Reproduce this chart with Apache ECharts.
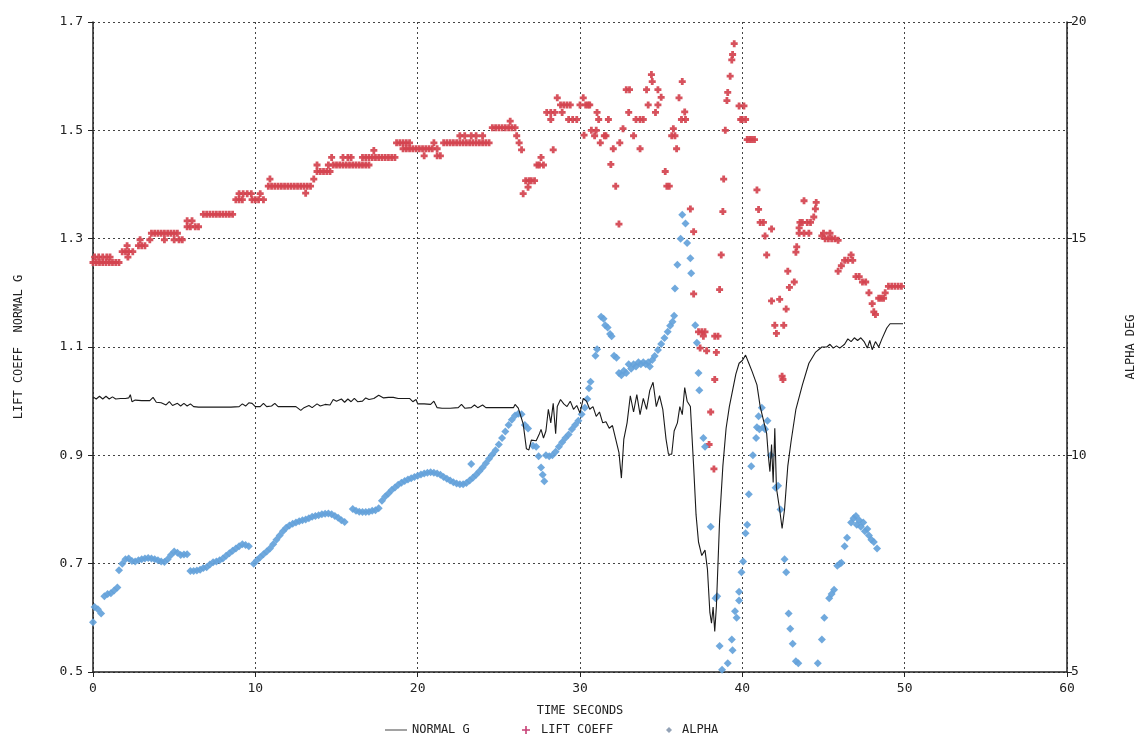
<!DOCTYPE html>
<html>
<head>
<meta charset="utf-8">
<script src="https://cdn.jsdelivr.net/npm/echarts@6/dist/echarts.min.js"></script>
<style>
html,body{margin:0;padding:0;background:#fff;}
#chart{width:1145px;height:746px;}
</style>
</head>
<body>
<div id="chart"></div>
<script>
// ---- Data (time in seconds) ----
const xTicks = [0, 10, 20, 30, 40, 50, 60];
const leftTicks = [0.5, 0.7, 0.9, 1.1, 1.3, 1.5, 1.7];
const rightTicks = [5, 10, 15, 20];

// NORMAL G [time, g]
const normalG = [
[0,1.008],[0.2,1.004],[0.4,1.009],[0.6,1.004],[0.8,1.009],[1.0,1.004],[1.2,1.008],[1.4,1.004],[1.7,1.005],[2.0,1.005],
[2.2,1.006],[2.3,1.012],[2.4,0.999],[2.6,1.002],[3.0,1.001],[3.5,1.001],[3.7,1.007],[3.9,0.998],[4.2,0.997],[4.5,0.993],
[4.7,0.999],[4.9,0.992],[5.2,0.996],[5.4,0.991],[5.6,0.996],[5.8,0.991],[6.0,0.995],[6.2,0.990],[6.5,0.989],[7.5,0.989],
[8.5,0.989],[9.0,0.990],[9.2,0.995],[9.4,0.991],[9.6,0.997],[9.8,0.996],[10.0,0.990],[10.3,0.990],[10.5,0.996],[10.7,0.990],
[11.0,0.991],[11.2,0.996],[11.4,0.990],[12.0,0.990],[12.5,0.990],[12.8,0.983],[13.0,0.988],[13.3,0.992],[13.5,0.988],[13.8,0.995],
[14.0,0.991],[14.3,0.994],[14.6,0.993],[14.8,1.003],[15.0,1.000],[15.3,1.004],[15.5,0.998],[15.7,1.004],[15.9,0.999],[16.1,1.005],
[16.3,0.999],[16.6,1.000],[16.8,1.006],[17.0,1.003],[17.3,1.005],[17.6,1.011],[17.9,1.006],[18.2,1.007],[18.5,1.007],[18.8,1.005],
[19.2,1.005],[19.5,1.005],[19.7,0.999],[19.9,1.003],[20.0,0.995],[20.4,0.995],[20.8,0.994],[21.0,1.000],[21.2,0.988],[21.5,0.987],
[22.0,0.987],[22.5,0.988],[22.7,0.994],[22.9,0.987],[23.3,0.988],[23.5,0.993],[23.7,0.988],[24.0,0.993],[24.2,0.988],[25.0,0.988],
[25.9,0.988],[26.0,0.994],[26.2,0.987],[26.5,0.958],[26.7,0.912],[26.85,0.910],[27.0,0.928],[27.3,0.927],[27.5,0.940],[27.6,0.948],
[27.75,0.932],[27.9,0.945],[28.05,0.985],[28.2,0.960],[28.35,0.996],[28.5,0.940],[28.6,0.990],[28.8,1.003],[29.0,0.995],[29.2,0.990],
[29.4,1.000],[29.6,0.985],[29.8,0.992],[30.0,0.978],[30.2,1.005],[30.4,1.000],[30.6,0.985],[30.8,0.990],[31.0,0.972],[31.2,0.980],
[31.4,0.960],[31.6,0.962],[31.8,0.950],[32.0,0.955],[32.2,0.930],[32.4,0.905],[32.55,0.858],[32.7,0.930],[32.9,0.960],[33.1,1.010],
[33.3,0.980],[33.5,1.012],[33.7,0.975],[33.9,1.005],[34.1,0.985],[34.3,1.020],[34.5,1.035],[34.7,0.990],[34.9,1.010],[35.1,0.985],
[35.3,0.930],[35.45,0.902],[35.65,0.902],[35.8,0.945],[36.0,0.960],[36.15,0.990],[36.3,0.975],[36.45,1.025],[36.6,1.000],[36.8,0.990],
[37.0,0.880],[37.15,0.790],[37.3,0.740],[37.5,0.715],[37.7,0.725],[37.85,0.690],[38.0,0.610],[38.1,0.590],[38.2,0.620],[38.3,0.575],
[38.4,0.620],[38.5,0.700],[38.6,0.780],[38.8,0.880],[39.0,0.950],[39.2,0.990],[39.4,1.020],[39.6,1.050],[39.8,1.070],[40.0,1.075],
[40.2,1.085],[40.4,1.070],[40.6,1.055],[40.9,1.030],[41.1,0.990],[41.3,0.965],[41.5,0.940],[41.6,0.900],[41.7,0.870],[41.8,0.920],
[41.9,0.850],[42.0,0.950],[42.1,0.840],[42.3,0.800],[42.45,0.765],[42.6,0.800],[42.8,0.880],[43.0,0.925],[43.3,0.985],[43.7,1.030],
[44.1,1.070],[44.5,1.090],[44.9,1.100],[45.2,1.100],[45.4,1.105],[45.6,1.098],[45.8,1.102],[46.0,1.098],[46.3,1.105],[46.5,1.115],
[46.7,1.110],[46.9,1.117],[47.1,1.112],[47.3,1.117],[47.5,1.110],[47.7,1.098],[47.85,1.112],[48.0,1.095],[48.2,1.110],[48.4,1.100],
[48.6,1.115],[48.9,1.135],[49.1,1.143],[49.9,1.143]
];

// LIFT COEFF [time, CL]
const liftCoeff = [
[0,1.256],[0.2,1.256],[0.4,1.256],[0.6,1.256],[0.8,1.256],[1.0,1.256],[1.2,1.256],[1.4,1.256],[1.6,1.256],
[0.1,1.266],[0.35,1.266],[0.6,1.266],[0.85,1.266],[1.05,1.266],
[1.8,1.276],[2.0,1.276],[2.2,1.276],[2.45,1.276],[2.1,1.287],[2.15,1.266],
[2.8,1.287],[3.0,1.287],[3.2,1.287],[2.9,1.298],
[3.6,1.31],[3.8,1.31],[4.0,1.31],[4.2,1.31],[4.4,1.31],[4.6,1.31],[4.8,1.31],[5.0,1.31],[5.2,1.31],
[3.5,1.298],[4.4,1.298],[5.0,1.298],[5.3,1.298],[5.5,1.298],
[5.8,1.333],[6.1,1.333],[5.8,1.322],[6.0,1.322],[6.3,1.322],[6.5,1.322],
[6.8,1.345],[7.0,1.345],[7.2,1.345],[7.4,1.345],[7.6,1.345],[7.8,1.345],[8.0,1.345],[8.2,1.345],[8.4,1.345],[8.6,1.345],
[8.8,1.372],[9.0,1.372],[9.2,1.372],[9.8,1.372],[10.0,1.372],[10.2,1.372],[10.5,1.372],
[9.0,1.383],[9.25,1.383],[9.5,1.383],[9.75,1.383],[10.3,1.383],
[10.8,1.397],[11.0,1.397],[11.2,1.397],[11.4,1.397],[11.6,1.397],[11.8,1.397],[12.0,1.397],[12.2,1.397],[12.4,1.397],
[12.6,1.397],[12.8,1.397],[13.0,1.397],[13.2,1.397],[13.4,1.397],
[10.9,1.41],[13.1,1.384],[13.6,1.41],
[13.8,1.424],[14.0,1.424],[14.2,1.424],[14.4,1.424],[14.6,1.424],[13.8,1.436],
[14.5,1.436],[14.8,1.436],[15.0,1.436],[15.2,1.436],[15.4,1.436],[15.6,1.436],[15.8,1.436],[16.0,1.436],[16.2,1.436],
[16.4,1.436],[16.6,1.436],[16.8,1.436],[17.0,1.436],
[14.7,1.45],[15.4,1.45],[15.7,1.45],[15.9,1.45],
[16.6,1.45],[16.8,1.45],[17.0,1.45],[17.2,1.45],[17.4,1.45],[17.6,1.45],[17.8,1.45],[18.0,1.45],[18.2,1.45],[18.4,1.45],[18.6,1.45],[17.3,1.463],
[18.7,1.477],[18.9,1.477],[19.1,1.477],[19.3,1.477],[19.5,1.477],
[19.1,1.466],[19.3,1.466],[19.5,1.466],[19.7,1.466],[19.9,1.466],[20.1,1.466],[20.3,1.466],[20.5,1.466],[20.7,1.466],[20.9,1.466],
[21.2,1.466],[21.0,1.477],[21.2,1.453],[21.4,1.453],[20.4,1.453],
[21.6,1.477],[21.8,1.477],[22.0,1.477],[22.2,1.477],[22.4,1.477],[22.6,1.477],[22.8,1.477],[23.0,1.477],[23.2,1.477],
[23.4,1.477],[23.6,1.477],[23.8,1.477],[24.0,1.477],[24.2,1.477],[24.4,1.477],
[22.6,1.49],[22.9,1.49],[23.3,1.49],[23.6,1.49],[24.0,1.49],
[24.6,1.505],[24.8,1.505],[25.0,1.505],[25.2,1.505],[25.4,1.505],[25.6,1.505],[25.8,1.505],[26.0,1.505],[25.7,1.517],
[26.1,1.49],[26.25,1.477],[26.4,1.464],[26.5,1.383],[26.65,1.407],[26.8,1.395],[26.85,1.407],[27.0,1.407],[27.2,1.407],
[27.35,1.436],[27.5,1.436],[27.6,1.45],[27.75,1.436],[28.2,1.52],[28.35,1.464],[27.95,1.533],[28.2,1.533],[28.45,1.533],
[28.6,1.56],[28.9,1.533],[28.8,1.547],[29.0,1.547],[29.2,1.547],[29.4,1.547],[29.3,1.52],[29.55,1.52],[29.8,1.52],
[30.0,1.547],[30.2,1.56],[30.25,1.491],[30.35,1.547],[30.5,1.547],[30.6,1.547],[30.7,1.5],[30.9,1.49],[31.0,1.5],
[31.05,1.533],[31.15,1.52],[31.25,1.477],[31.5,1.49],[31.6,1.49],[31.75,1.52],[31.9,1.437],[32.05,1.466],[32.2,1.397],
[32.4,1.327],[32.45,1.477],[32.65,1.503],[32.85,1.575],[33.05,1.575],[33.0,1.533],[33.3,1.49],[33.45,1.52],[33.7,1.52],
[33.9,1.52],[33.7,1.466],[34.1,1.575],[34.2,1.547],[34.4,1.603],[34.45,1.59],[34.65,1.533],[34.8,1.547],[34.8,1.575],
[35.0,1.561],[35.25,1.424],[35.35,1.397],[35.5,1.397],[35.75,1.503],[35.65,1.49],[35.85,1.49],[35.95,1.466],[36.1,1.56],
[36.3,1.59],[36.25,1.52],[36.5,1.52],[36.45,1.534],[36.8,1.355],[37.0,1.313],
[37.0,1.198],[37.3,1.128],[37.5,1.128],[37.7,1.128],[37.4,1.098],[37.6,1.12],[37.8,1.093],[37.95,0.92],[38.05,0.98],
[38.25,0.875],[38.3,1.04],[38.3,1.12],[38.4,1.09],[38.5,1.12],[38.6,1.206],[38.7,1.27],[38.8,1.35],[38.85,1.41],
[38.95,1.5],[39.05,1.555],[39.1,1.57],[39.25,1.6],[39.35,1.63],[39.4,1.64],[39.5,1.66],[39.8,1.545],[39.9,1.52],
[40.0,1.52],[40.1,1.545],[40.2,1.52],[40.3,1.483],[40.45,1.483],[40.6,1.483],[40.75,1.483],[40.9,1.39],[41.0,1.354],
[41.1,1.33],[41.3,1.33],[41.4,1.305],[41.8,1.318],[41.5,1.27],[41.8,1.185],[42.3,1.188],[42.0,1.14],[42.1,1.125],
[42.45,1.046],[42.5,1.04],[42.55,1.14],[42.7,1.17],[42.8,1.24],[42.9,1.21],[43.2,1.22],[43.3,1.275],[43.35,1.285],
[43.5,1.32],[43.55,1.33],[43.8,1.37],[43.5,1.31],[43.8,1.31],[44.1,1.31],[43.7,1.33],[44.0,1.33],[44.2,1.33],[44.4,1.34],
[44.5,1.355],[44.55,1.367],[44.9,1.305],[45.1,1.3],[45.3,1.3],[45.5,1.3],[45.7,1.3],[45.9,1.297],[45.0,1.31],[45.4,1.31],
[45.9,1.24],[46.1,1.25],[46.3,1.26],[46.5,1.26],[46.7,1.27],[46.8,1.26],[47.0,1.23],[47.2,1.23],[47.4,1.22],[47.6,1.22],
[47.8,1.2],[48.0,1.18],[48.1,1.165],[48.2,1.16],[48.4,1.19],[48.55,1.19],[48.7,1.19],[48.8,1.2],[49.0,1.212],[49.2,1.212],
[49.4,1.212],[49.6,1.212],[49.8,1.212]
];

// ALPHA [time, deg]
const alpha = [
[0,6.15],[0.1,6.5],[0.3,6.45],[0.5,6.35],[0.7,6.75],[0.9,6.8],[1.1,6.82],[1.3,6.88],[1.5,6.95],
[1.6,7.35],[1.8,7.5],[2.0,7.6],[2.2,7.62],[2.4,7.56],[2.6,7.55],[2.8,7.58],[3.0,7.6],[3.2,7.62],[3.4,7.63],[3.6,7.62],
[3.8,7.6],[4.0,7.58],[4.2,7.55],[4.4,7.54],[4.6,7.6],[4.8,7.7],[5.0,7.78],[5.2,7.75],[5.4,7.7],[5.6,7.71],[5.8,7.72],
[6.0,7.33],[6.2,7.33],[6.4,7.34],[6.6,7.36],[6.8,7.4],[7.0,7.42],[7.2,7.48],[7.4,7.53],[7.6,7.55],[7.8,7.58],[8.0,7.62],
[8.2,7.68],[8.4,7.74],[8.6,7.8],[8.8,7.85],[9.0,7.9],[9.2,7.95],[9.4,7.93],[9.6,7.9],
[9.9,7.5],[10.1,7.58],[10.3,7.65],[10.5,7.72],[10.7,7.78],[10.9,7.85],[11.1,7.95],[11.3,8.05],[11.5,8.15],[11.7,8.25],
[11.9,8.33],[12.1,8.38],[12.3,8.42],[12.5,8.45],[12.7,8.48],[12.9,8.5],[13.1,8.52],[13.3,8.55],[13.5,8.58],[13.7,8.6],
[13.9,8.62],[14.1,8.64],[14.3,8.65],[14.5,8.66],[14.7,8.64],[14.9,8.6],[15.1,8.56],[15.3,8.5],[15.5,8.46],
[16.0,8.76],[16.2,8.72],[16.4,8.7],[16.6,8.69],[16.8,8.69],[17.0,8.7],[17.2,8.72],[17.4,8.73],[17.6,8.78],
[17.8,8.95],[18.0,9.05],[18.2,9.12],[18.4,9.2],[18.6,9.26],[18.8,9.32],[19.0,9.37],[19.2,9.41],[19.4,9.44],[19.6,9.47],
[19.8,9.5],[20.0,9.53],[20.2,9.56],[20.4,9.58],[20.6,9.6],[20.8,9.61],[21.0,9.6],[21.2,9.58],[21.4,9.55],[21.6,9.5],
[21.8,9.46],[22.0,9.42],[22.2,9.38],[22.4,9.35],[22.6,9.33],[22.8,9.33],[23.3,9.8],
[23.0,9.36],[23.2,9.42],[23.4,9.48],[23.6,9.55],[23.8,9.63],[24.0,9.72],[24.2,9.82],[24.4,9.92],[24.6,10.02],[24.8,10.12],
[25.0,10.25],[25.2,10.4],[25.4,10.55],[25.6,10.7],[25.8,10.82],[26.0,10.92],[26.2,10.96],[26.4,10.95],
[26.6,10.7],[26.8,10.62],[27.1,10.22],[27.3,10.2],[27.45,9.98],[27.6,9.72],[27.7,9.55],[27.8,9.4],
[27.9,10.0],[28.1,9.98],[28.3,10.0],[28.5,10.08],[28.7,10.2],[28.9,10.3],[29.1,10.4],[29.3,10.48],[29.5,10.6],[29.7,10.7],
[29.9,10.8],[30.1,10.95],[30.3,11.1],[30.45,11.3],[30.55,11.55],[30.65,11.7],
[30.95,12.3],[31.05,12.45],[31.3,13.2],[31.45,13.15],[31.55,13.0],[31.7,12.95],[31.85,12.8],[31.95,12.75],
[32.1,12.3],[32.25,12.25],[32.4,11.9],[32.55,11.85],[32.7,11.95],[32.85,11.9],[33.0,12.1],[33.15,12.0],[33.3,12.1],
[33.45,12.05],[33.6,12.15],[33.75,12.1],[33.9,12.15],[34.05,12.1],[34.2,12.15],[34.3,12.05],
[34.45,12.2],[34.6,12.29],[34.8,12.43],[35.0,12.57],[35.2,12.71],[35.4,12.85],[35.55,12.99],[35.7,13.08],[35.8,13.22],
[35.85,13.85],[36.0,14.4],[36.2,15.0],[36.3,15.55],[36.5,15.35],[36.6,14.9],[36.8,14.55],[36.85,14.2],
[37.1,13.0],[37.2,12.6],[37.3,11.9],[37.35,11.5],[37.6,10.4],[37.7,10.2],
[38.05,8.35],[38.35,6.7],[38.45,6.75],[38.6,5.6],[38.75,5.05],[39.1,5.2],[39.35,5.75],[39.4,5.5],[39.55,6.4],[39.65,6.25],
[39.8,6.85],[39.8,6.65],[39.95,7.3],[40.05,7.55],[40.2,8.2],[40.3,8.4],[40.4,9.1],[40.55,9.75],[40.65,10.0],[40.85,10.4],
[40.9,10.65],[41.0,10.9],[41.05,10.6],[41.2,11.1],[41.3,10.65],[41.4,10.6],[41.55,10.8],[41.75,10.0],
[42.05,9.25],[42.2,9.3],[42.35,8.75],[42.6,7.6],[42.7,7.3],[42.85,6.35],[42.95,6.0],[43.1,5.65],[43.3,5.25],[43.45,5.2],
[44.65,5.2],[44.9,5.75],[45.05,6.25],[45.35,6.7],[45.5,6.8],[45.65,6.9],[45.85,7.45],[46.0,7.5],[46.1,7.52],[46.3,7.9],
[46.45,8.1],[46.7,8.45],[46.85,8.55],[47.0,8.6],[47.05,8.4],[47.2,8.5],[47.3,8.35],[47.45,8.45],[47.55,8.25],[47.7,8.3],
[47.8,8.15],[47.95,8.05],[48.1,8.0],[48.3,7.85]
];

const seriesNames = ['NORMAL G', 'LIFT COEFF', 'ALPHA'];

const FONT = 'DejaVu Sans Mono';
const chart = echarts.init(document.getElementById('chart'), null, {renderer: 'canvas'});
const plusPath = 'path://M3,0h4v3h3v4h-3v3h-4v-3h-3v-4h3z';
const thinPlus = 'path://M4,0h2v4h4v2h-4v4h-2v-4h-4v-2h4z';
const legendText = {fontFamily: FONT, fontSize: 12, color: '#222'};

chart.setOption({
  animation: false,
  backgroundColor: '#ffffff',
  grid: {left: 93, right: 77, top: 22, bottom: 74},
  legend: [
    {bottom: 5, left: 380, itemWidth: 22, itemHeight: 8, textStyle: legendText,
     data: [{name: seriesNames[0], icon: 'path://M0,4H22V5H0Z', itemStyle: {color: '#444'}}]},
    {bottom: 5, left: 517, itemWidth: 8, itemHeight: 8, textStyle: Object.assign({padding: [0, 0, 0, 6]}, legendText),
     data: [{name: seriesNames[1], icon: thinPlus, itemStyle: {color: '#c2306a'}}]},
    {bottom: 5, left: 661, itemWidth: 6, itemHeight: 6, textStyle: Object.assign({padding: [0, 0, 0, 5]}, legendText),
     data: [{name: seriesNames[2], icon: 'diamond', itemStyle: {color: '#8a9ab0'}}]}
  ],
  xAxis: {
    type: 'value', min: xTicks[0], max: xTicks[xTicks.length - 1], interval: 10,
    name: 'TIME SECONDS', nameLocation: 'middle', nameGap: 33,
    nameTextStyle: {fontFamily: FONT, fontSize: 12, color: '#222'},
    axisLine: {show: true, lineStyle: {color: '#222', width: 1.5}},
    axisTick: {show: true, length: 5, lineStyle: {color: '#222'}},
    axisLabel: {fontFamily: FONT, fontSize: 13, color: '#222', margin: 10},
    splitLine: {show: true, lineStyle: {color: '#444', type: [2, 3], width: 1}}
  },
  yAxis: [
    {
      type: 'value', min: leftTicks[0], max: leftTicks[leftTicks.length - 1], interval: 0.2,
      position: 'left',
      name: 'LIFT COEFF  NORMAL G', nameLocation: 'middle', nameGap: 68, nameRotate: 90,
      nameTextStyle: {fontFamily: FONT, fontSize: 12, color: '#222'},
      axisLine: {show: true, lineStyle: {color: '#222', width: 1.5}},
      axisTick: {show: true, length: 5, lineStyle: {color: '#222'}},
      axisLabel: {fontFamily: FONT, fontSize: 13, color: '#222', margin: 10,
                  formatter: v => v.toFixed(1)},
      splitLine: {show: true, lineStyle: {color: '#444', type: [2, 3], width: 1}}
    },
    {
      type: 'value', min: rightTicks[0], max: rightTicks[rightTicks.length - 1], interval: 5,
      position: 'right',
      name: 'ALPHA DEG', nameLocation: 'middle', nameGap: 58, nameRotate: 90,
      nameTextStyle: {fontFamily: FONT, fontSize: 12, color: '#222'},
      axisLine: {show: true, lineStyle: {color: '#222', width: 1.5}},
      axisTick: {show: true, length: 5, lineStyle: {color: '#222'}},
      axisLabel: {fontFamily: FONT, fontSize: 13, color: '#222', margin: 4},
      splitLine: {show: false}
    }
  ],
  series: [
    {
      name: seriesNames[1], type: 'scatter', yAxisIndex: 0, data: liftCoeff,
      symbol: plusPath, symbolSize: 7,
      itemStyle: {color: '#d4434f', opacity: 0.92}, z: 2
    },
    {
      name: seriesNames[2], type: 'scatter', yAxisIndex: 1, data: alpha,
      symbol: 'diamond', symbolSize: 8,
      itemStyle: {color: '#64a2da', opacity: 0.92}, z: 2
    },
    {
      name: seriesNames[0], type: 'line', yAxisIndex: 0, data: normalG,
      symbol: 'none', showSymbol: false,
      lineStyle: {color: '#1a1a1a', width: 1.1}, z: 3
    }
  ]
});
</script>
</body>
</html>
